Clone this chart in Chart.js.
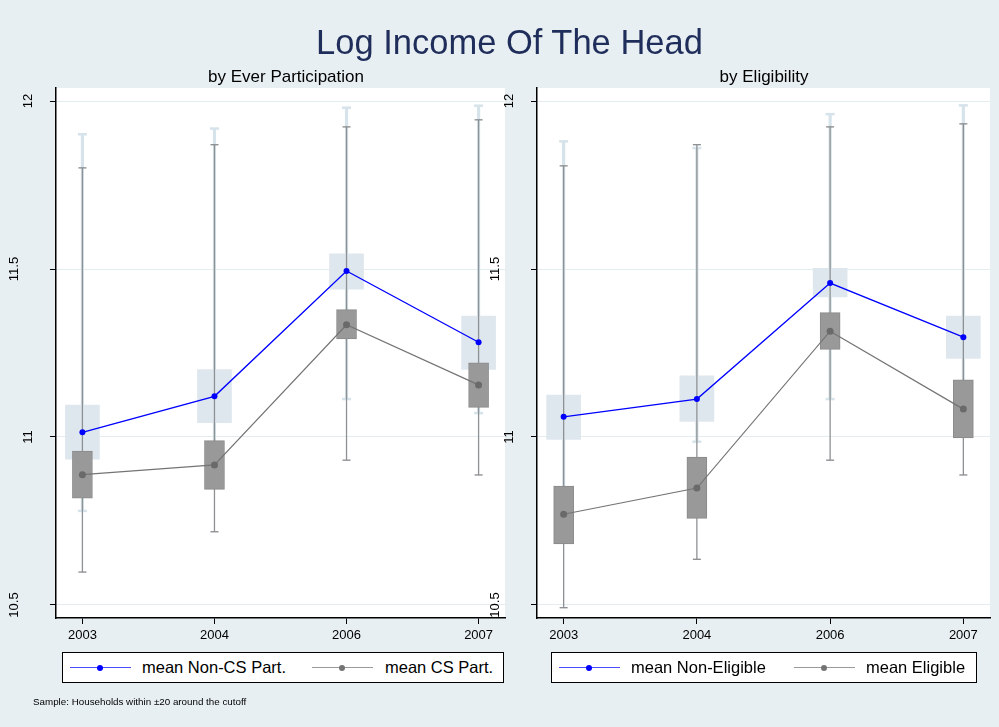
<!DOCTYPE html>
<html>
<head>
<meta charset="utf-8">
<script src="https://cdn.jsdelivr.net/npm/chart.js@4.4.1/dist/chart.umd.min.js"></script>
<style>
  html, body { margin: 0; padding: 0; }
  body {
    width: 999px; height: 727px; position: relative; overflow: hidden;
    background: #e8eff2;
    font-family: "Liberation Sans", Arial, Helvetica, sans-serif;
  }
  canvas { position: absolute; top: 0; }
  #chartPart { left: 0; }
  #chartElig { left: 480px; }
  .main-title {
    position: absolute; left: 10px; top: 25px; width: 999px; text-align: center;
    font-size: 34.5px; line-height: 34px; color: #1f2d5a; white-space: nowrap;
  }
  .sub-title {
    position: absolute; top: 68px; font-size: 17px; line-height: 17px;
    color: #000; white-space: nowrap; transform: translateX(-50%);
  }
  .legend {
    position: absolute; top: 652px; height: 31px; box-sizing: border-box;
    background: #fff; border: 1px solid #000;
  }
  .legend .sym { position: absolute; top: 14px; height: 0; border-top: 1.5px solid; }
  .legend .dot { position: absolute; top: -3.5px; width: 6px; height: 6px; border-radius: 50%; }
  .legend .lab { position: absolute; top: 5px; font-size: 16.5px; line-height: 19px; color: #000; white-space: nowrap; }
  .note { position: absolute; left: 33px; top: 696px; font-size: 9.8px; color: #000; white-space: nowrap; }
</style>
</head>
<body>
<canvas id="chartPart" width="512" height="727"></canvas>
<canvas id="chartElig" width="519" height="727"></canvas>
<div class="main-title" id="mainTitle"></div>
<div id="overlay"></div>
<div class="note" id="note"></div>

<script>
// ---- data ----
const years = ['2003', '2004', '2006', '2007'];
const yTicks = [10.5, 11, 11.5, 12];

// by Ever Participation: non-participants (light box) and CS participants (grey box)
const partNonMean      = [11.014, 11.121, 11.494, 11.282];
const partNonBoxLow    = [10.934, 11.043, 11.440, 11.201];
const partNonBoxHigh   = [11.095, 11.201, 11.545, 11.360];
const partNonWhiskLow  = [10.780, 10.950, 11.113, 11.071];
const partNonWhiskHigh = [11.901, 11.918, 11.980, 11.986];
const partCsMean       = [10.888, 10.917, 11.334, 11.155];
const partCsBoxLow     = [10.818, 10.844, 11.292, 11.088];
const partCsBoxHigh    = [10.958, 10.989, 11.379, 11.221];
const partCsWhiskLow   = [10.598, 10.718, 10.931, 10.887];
const partCsWhiskHigh  = [11.801, 11.870, 11.923, 11.944];

// by Eligibility: non-eligible (light box) and eligible (grey box)
const eligNonMean      = [11.060, 11.113, 11.458, 11.297];
const eligNonBoxLow    = [10.993, 11.046, 11.417, 11.234];
const eligNonBoxHigh   = [11.125, 11.182, 11.502, 11.360];
const eligNonWhiskLow  = [10.800, 10.986, 11.113, 11.100];
const eligNonWhiskHigh = [11.880, 11.860, 11.961, 11.987];
const eligMean         = [10.770, 10.848, 11.315, 11.083];
const eligBoxLow       = [10.682, 10.758, 11.261, 10.997];
const eligBoxHigh      = [10.854, 10.940, 11.370, 11.170];
const eligWhiskLow     = [10.492, 10.636, 10.931, 10.887];
const eligWhiskHigh    = [11.807, 11.870, 11.923, 11.932];

const mainTitle = 'Log Income Of The Head';
const partTitle = 'by Ever Participation';
const eligTitle = 'by Eligibility';
const partLegend = ['mean Non-CS Part.', 'mean CS Part.'];
const eligLegend = ['mean Non-Eligible', 'mean Eligible'];
const noteText = 'Sample: Households within \u00b120 around the cutoff';

// ---- styling ----
const FONT = '"Liberation Sans", Arial, Helvetica, sans-serif';
const BLUE = '#0000ff';
const MEAN_GREY = '#747474';
const BOX_GREY = '#999999';
const WHISK_GREY = '#8e9193';
const LIGHT_BOX = '#dfe7ee';
const LIGHT_WHISK = '#d6e3ea';

const range = a => a.map((_, i) => i);
const floating = (lo, hi) => years.map((_, i) => ({ x: i, y: [lo[i], hi[i]] }));
const points = v => years.map((_, i) => ({ x: i, y: v[i] }));

// white plot region behind the marks
const plotBackground = {
  id: 'plotBackground',
  beforeDraw(chart) {
    const { ctx, chartArea: a } = chart;
    ctx.save();
    ctx.fillStyle = '#ffffff';
    ctx.fillRect(a.left, a.top, a.right - a.left, a.bottom - a.top);
    ctx.restore();
  }
};

// vertical y labels: fractional ones are set half a (tall) line further out
const yLabel = v => Number.isInteger(v) ? String(v) : [String(v), ''];

function makePanel(id, axisWidth, padRight, s, names) {
  const datasets = [
    { type: 'line', label: names[0], data: points(s.nonMean), order: 1,
      borderColor: BLUE, borderWidth: 1.3, pointRadius: 3, pointBackgroundColor: BLUE,
      pointBorderWidth: 0, tension: 0 },
    { type: 'line', label: names[1], data: points(s.csMean), order: 2,
      borderColor: MEAN_GREY, borderWidth: 1.2, pointRadius: 3.5, pointBackgroundColor: '#6a6a6a',
      pointBorderWidth: 0, tension: 0 },
    { type: 'line', data: points(s.csWhiskHigh), order: 3, showLine: false,
      pointStyle: 'line', pointRadius: 4, pointBorderColor: WHISK_GREY, pointBorderWidth: 1.4 },
    { type: 'line', data: points(s.csWhiskLow), order: 3, showLine: false,
      pointStyle: 'line', pointRadius: 4, pointBorderColor: WHISK_GREY, pointBorderWidth: 1.4 },
    { type: 'bar', data: floating(s.csBoxLow, s.csBoxHigh), order: 4, grouped: false,
      barThickness: 20, backgroundColor: BOX_GREY, borderColor: '#8a8a8a', borderWidth: 1,
      borderSkipped: false },
    { type: 'bar', data: floating(s.csWhiskLow, s.csWhiskHigh), order: 5, grouped: false,
      barThickness: 1.3, backgroundColor: WHISK_GREY, borderWidth: 0, inflateAmount: 0 },
    { type: 'bar', data: floating(s.nonBoxLow, s.nonBoxHigh), order: 6, grouped: false,
      barThickness: 34, backgroundColor: LIGHT_BOX, borderWidth: 0 },
    { type: 'line', data: points(s.nonWhiskHigh), order: 7, showLine: false,
      pointStyle: 'line', pointRadius: 4.5, pointBorderColor: LIGHT_WHISK, pointBorderWidth: 2.5 },
    { type: 'line', data: points(s.nonWhiskLow), order: 7, showLine: false,
      pointStyle: 'line', pointRadius: 4.5, pointBorderColor: LIGHT_WHISK, pointBorderWidth: 2.5 },
    { type: 'bar', data: floating(s.nonWhiskLow, s.nonWhiskHigh), order: 8, grouped: false,
      barThickness: 2.5, backgroundColor: LIGHT_WHISK, borderWidth: 0 }
  ];

  return new Chart(document.getElementById(id), {
    type: 'bar',
    data: { datasets },
    options: {
      responsive: false, animation: false, devicePixelRatio: 1, events: [],
      layout: { padding: { top: 88, bottom: 79, left: 0, right: padRight } },
      plugins: { legend: { display: false }, tooltip: { enabled: false }, title: { display: false } },
      scales: {
        x: {
          type: 'linear', min: -0.2, max: 3.2, offset: false,
          afterBuildTicks: sc => { sc.ticks = range(years).map(v => ({ value: v })); },
          afterFit: sc => { sc.height = 30; },
          ticks: { callback: v => years[v], autoSkip: false, maxRotation: 0, padding: 4,
                   color: '#000', font: { family: FONT, size: 13 } },
          grid: { offset: false, drawOnChartArea: false, tickLength: 6, tickColor: '#000', tickWidth: 1 },
          border: { color: '#000', width: 1.5 }
        },
        y: {
          type: 'linear', min: 10.4613, max: 12.0387,
          afterBuildTicks: sc => { sc.ticks = yTicks.map(v => ({ value: v })); },
          afterFit: sc => { sc.width = axisWidth; },
          ticks: { callback: yLabel, minRotation: 90, maxRotation: 90, crossAlign: 'center',
                   padding: 9.4, autoSkip: false, color: '#000',
                   font: { family: FONT, size: 13, lineHeight: 2.08 } },
          grid: { offset: false, color: '#e3ecef', lineWidth: 1, tickLength: 6, tickColor: '#000', tickWidth: 1 },
          border: { color: '#000', width: 1.5 }
        }
      }
    },
    plugins: [plotBackground]
  });
}

makePanel('chartPart', 56, 3, {
  nonMean: partNonMean, nonBoxLow: partNonBoxLow, nonBoxHigh: partNonBoxHigh,
  nonWhiskLow: partNonWhiskLow, nonWhiskHigh: partNonWhiskHigh,
  csMean: partCsMean, csBoxLow: partCsBoxLow, csBoxHigh: partCsBoxHigh,
  csWhiskLow: partCsWhiskLow, csWhiskHigh: partCsWhiskHigh
}, partLegend);

makePanel('chartElig', 57, 9, {
  nonMean: eligNonMean, nonBoxLow: eligNonBoxLow, nonBoxHigh: eligNonBoxHigh,
  nonWhiskLow: eligNonWhiskLow, nonWhiskHigh: eligNonWhiskHigh,
  csMean: eligMean, csBoxLow: eligBoxLow, csBoxHigh: eligBoxHigh,
  csWhiskLow: eligWhiskLow, csWhiskHigh: eligWhiskHigh
}, eligLegend);

// ---- titles, legends, note ----
document.getElementById('mainTitle').textContent = mainTitle;
document.getElementById('note').textContent = noteText;

const overlay = document.getElementById('overlay');
function addSubtitle(text, cx) {
  const d = document.createElement('div');
  d.className = 'sub-title';
  d.style.left = cx + 'px';
  d.textContent = text;
  overlay.appendChild(d);
}
addSubtitle(partTitle, 286);
addSubtitle(eligTitle, 764);

// legend: box position, then [symbol start, label start] per entry (relative to box)
function addLegend(names, left, width, slots) {
  const box = document.createElement('div');
  box.className = 'legend';
  box.style.left = left + 'px';
  box.style.width = width + 'px';
  const colors = [BLUE, MEAN_GREY];
  const symColors = ['#4d4dff', '#9a9a9a'];
  names.forEach((name, i) => {
    const sym = document.createElement('div');
    sym.className = 'sym';
    sym.style.left = slots[i][0] + 'px';
    sym.style.width = '61px';
    sym.style.borderTopColor = symColors[i];
    const dot = document.createElement('div');
    dot.className = 'dot';
    dot.style.left = '27px';
    dot.style.background = colors[i];
    sym.appendChild(dot);
    const lab = document.createElement('div');
    lab.className = 'lab';
    lab.style.left = slots[i][1] + 'px';
    lab.textContent = name;
    box.appendChild(sym);
    box.appendChild(lab);
  });
  overlay.appendChild(box);
}
addLegend(partLegend, 62, 442, [[7, 79], [249, 322]]);
addLegend(eligLegend, 551, 426, [[7, 79], [242, 314]]);
</script>
</body>
</html>
